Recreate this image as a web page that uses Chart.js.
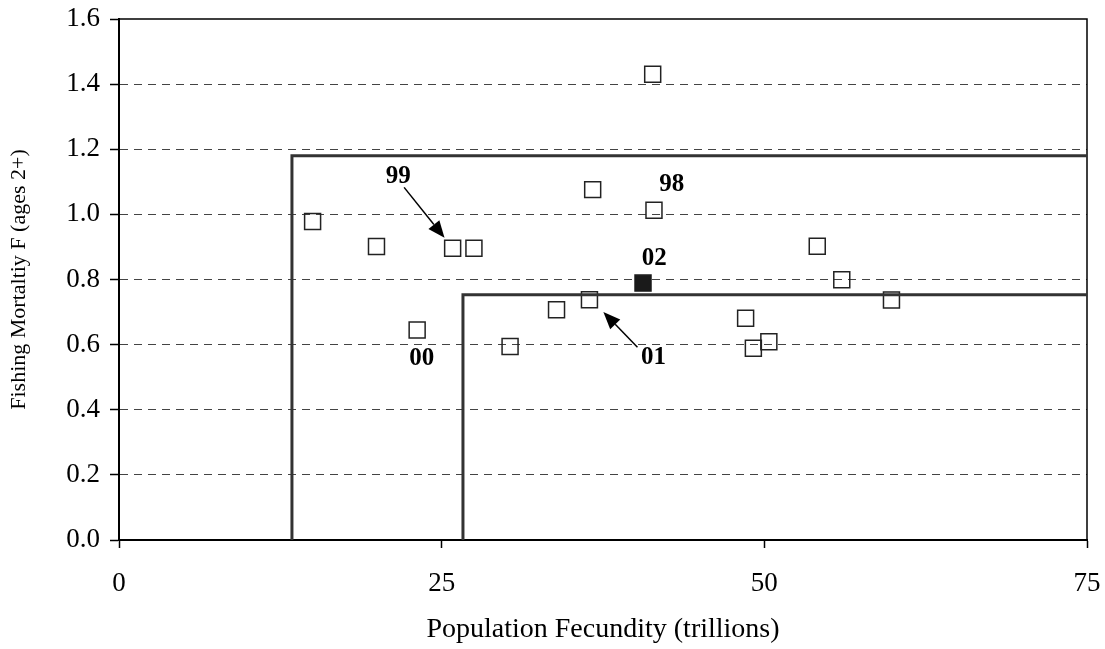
<!DOCTYPE html>
<html>
<head>
<meta charset="utf-8">
<script src="https://cdn.jsdelivr.net/npm/chart.js@4.4.1/dist/chart.umd.min.js"></script>
<style>
  html, body { margin: 0; padding: 0; background: #fff; }
  #wrap { width: 1105px; height: 649px; }
</style>
</head>
<body>
<div id="wrap"><canvas id="c" width="1105" height="649"></canvas></div>
<script>
// ---- data ----
const fecundity = [15.0, 19.95, 23.1, 25.85, 27.5, 30.3, 33.9, 36.45, 36.7, 41.35, 41.45, 48.55, 49.15, 50.35, 54.1, 56.0, 59.85];
const mortality = [0.978, 0.901, 0.645, 0.896, 0.896, 0.594, 0.707, 0.738, 1.076, 1.430, 1.013, 0.681, 0.589, 0.609, 0.902, 0.799, 0.737];
const currentFecundity = [40.6];
const currentMortality = [0.789];

const outerThresholdX = [13.4, 13.4, 75];
const outerThresholdY = [0, 1.18, 1.18];
const innerThresholdX = [26.65, 26.65, 75];
const innerThresholdY = [0, 0.753, 0.753];

const xTicks = [0, 25, 50, 75];
const yTicks = [0, 0.2, 0.4, 0.6, 0.8, 1.0, 1.2, 1.4, 1.6];

const labelText = ['99', '98', '02', '00', '01'];
const labelX = [21.64, 42.82, 41.48, 23.46, 41.42];
const labelY = [1.119, 1.095, 0.867, 0.5615, 0.5637];

const arrowFromX = [22.09, 40.17];
const arrowFromY = [1.083, 0.592];
const arrowToX = [25.22, 37.53];
const arrowToY = [0.928, 0.700];

const xTitle = 'Population Fecundity (trillions)';
const yTitle = 'Fishing Mortaltiy F (ages 2+)';

// ---- build ----
const toPts = (xs, ys) => xs.map((x, i) => ({x: x, y: ys[i]}));
const SERIF = '"Liberation Serif", "Times New Roman", serif';

const annotationPlugin = {
  id: 'annot',
  beforeDatasetsDraw(chart) {
    const {ctx, chartArea: a} = chart;
    ctx.save();
    ctx.strokeStyle = '#000';
    ctx.lineWidth = 1.5;
    ctx.beginPath();
    ctx.moveTo(a.left, a.top);
    ctx.lineTo(a.right, a.top);
    ctx.lineTo(a.right, a.bottom);
    ctx.stroke();
    ctx.restore();
  },
  afterDatasetsDraw(chart) {
    const {ctx} = chart;
    const xs = chart.scales.x, ys = chart.scales.y;
    ctx.save();
    ctx.fillStyle = '#000';
    ctx.font = 'bold 25px ' + SERIF;
    ctx.textAlign = 'center';
    ctx.textBaseline = 'middle';
    labelText.forEach((t, i) => {
      ctx.fillText(t, xs.getPixelForValue(labelX[i]), ys.getPixelForValue(labelY[i]) + 1);
    });
    ctx.strokeStyle = '#000';
    ctx.lineWidth = 1.5;
    arrowFromX.forEach((_, i) => {
      const x1 = xs.getPixelForValue(arrowFromX[i]), y1 = ys.getPixelForValue(arrowFromY[i]);
      const x2 = xs.getPixelForValue(arrowToX[i]), y2 = ys.getPixelForValue(arrowToY[i]);
      const ang = Math.atan2(y2 - y1, x2 - x1);
      const L = 17, W = 7;
      const bx = x2 - L * Math.cos(ang), by = y2 - L * Math.sin(ang);
      ctx.beginPath();
      ctx.moveTo(x1, y1);
      ctx.lineTo(bx, by);
      ctx.stroke();
      ctx.beginPath();
      ctx.moveTo(x2, y2);
      ctx.lineTo(bx + W * Math.sin(ang), by - W * Math.cos(ang));
      ctx.lineTo(bx - W * Math.sin(ang), by + W * Math.cos(ang));
      ctx.closePath();
      ctx.fill();
    });
    ctx.restore();
  }
};

new Chart(document.getElementById('c'), {
  type: 'scatter',
  data: {
    datasets: [
      {
        label: 'outer',
        data: toPts(outerThresholdX, outerThresholdY),
        showLine: true,
        borderColor: '#333',
        borderWidth: 3,
        pointRadius: 0,
        fill: false,
        tension: 0
      },
      {
        label: 'inner',
        data: toPts(innerThresholdX, innerThresholdY),
        showLine: true,
        borderColor: '#333',
        borderWidth: 3,
        pointRadius: 0,
        fill: false,
        tension: 0
      },
      {
        label: 'history',
        data: toPts(fecundity, mortality),
        pointStyle: 'rect',
        pointRadius: 11.3,
        pointBorderWidth: 1.5,
        borderColor: '#222',
        backgroundColor: 'rgba(0,0,0,0)',
        showLine: false
      },
      {
        label: '2002',
        data: toPts(currentFecundity, currentMortality),
        pointStyle: 'rect',
        pointRadius: 11.3,
        pointBorderWidth: 1.5,
        borderColor: '#1a1a1a',
        backgroundColor: '#1a1a1a',
        showLine: false
      }
    ]
  },
  options: {
    responsive: false,
    animation: false,
    devicePixelRatio: 1,
    layout: { padding: { top: 19, right: 18, left: 0, bottom: 0 } },
    plugins: { legend: { display: false }, tooltip: { enabled: false } },
    scales: {
      x: {
        type: 'linear',
        min: 0, max: 75,
        afterFit(s) { s.height = 109; s.paddingLeft = 0; s.paddingRight = 0; },
        afterBuildTicks(s) { s.ticks = xTicks.map(v => ({value: v})); },
        ticks: { color: '#000', font: { family: SERIF, size: 27 }, padding: 20, maxRotation: 0 },
        grid: { drawOnChartArea: false, drawTicks: true, tickLength: 8, tickColor: '#000', tickWidth: 1.5 },
        border: { color: '#000', width: 2 },
        title: { display: true, text: xTitle, color: '#000', font: { family: SERIF, size: 28 }, padding: { top: 0, bottom: 3 } }
      },
      y: {
        type: 'linear',
        min: 0, max: 1.6,
        afterFit(s) { s.width = 119; s.paddingTop = 0; s.paddingBottom = 0; },
        afterBuildTicks(s) { s.ticks = yTicks.map(v => ({value: v})); },
        ticks: { color: '#000', font: { family: SERIF, size: 27 }, padding: 10, callback: v => Number(v).toFixed(1) },
        grid: {
          drawOnChartArea: true,
          drawTicks: true,
          tickLength: 9,
          tickColor: '#000',
          tickWidth: 1.5,
          tickBorderDash: [],
          lineWidth: 1,
          color: c => (c.tick && (c.tick.value === 0 || Math.abs(c.tick.value - 1.6) < 1e-9)) ? 'rgba(0,0,0,0)' : '#444'
        },
        border: { color: '#000', width: 2, dash: [8, 6] },
        title: { display: true, text: yTitle, color: '#000', font: { family: SERIF, size: 22 }, padding: { top: 6, bottom: 0 } }
      }
    }
  },
  plugins: [annotationPlugin]
});
</script>
</body>
</html>
